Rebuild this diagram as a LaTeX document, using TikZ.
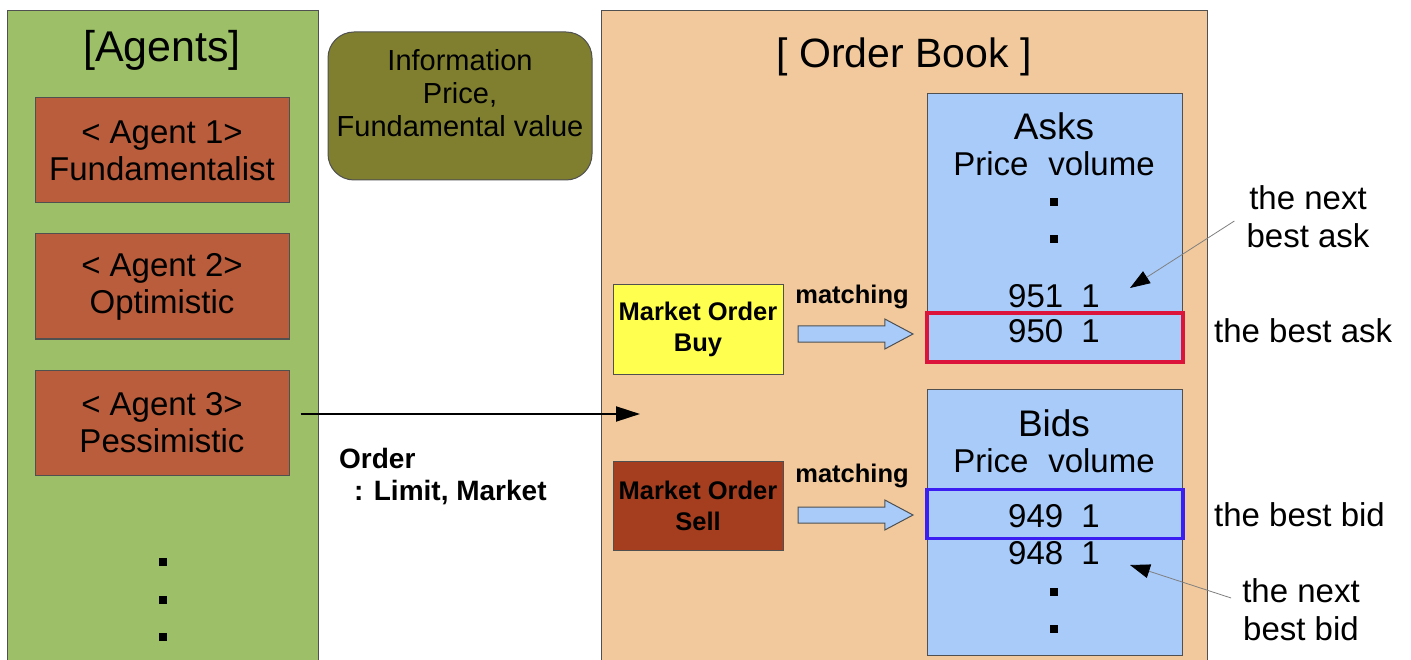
\documentclass[tikz,border=0pt]{standalone}
\usepackage{fontspec}
\setmainfont{Liberation Sans}
\usetikzlibrary{shapes.arrows,arrows.meta}
\definecolor{agentgreen}{HTML}{9CBF68}
\definecolor{agentrust}{HTML}{B95D3C}
\definecolor{infoolive}{HTML}{7F7F2F}
\definecolor{bookorange}{HTML}{F2C99C}
\definecolor{booksky}{HTML}{A8CBFA}
\definecolor{buyyellow}{HTML}{FFFF50}
\definecolor{sellrust}{HTML}{A53D1F}
\definecolor{askred}{HTML}{DC143C}
\definecolor{bidblue}{HTML}{3A1EF2}
\definecolor{edgegray}{HTML}{505050}
\newcommand{\fs}[1]{\fontsize{#1}{1.2\dimexpr#1pt\relax}\selectfont}
\tikzset{
  panelbox/.style={draw=edgegray, line width=1pt, inner sep=0pt, anchor=north west},
  agentbox/.style={draw=edgegray, line width=1pt, fill=agentrust, minimum width=254pt, minimum height=105pt, inner sep=0pt, align=center, font=\fontsize{33}{37}\selectfont},
  orderbox/.style={draw=edgegray, line width=1pt, minimum width=170pt, minimum height=89pt, inner sep=0pt, align=center, font=\fontsize{25.5}{31}\selectfont\bfseries},
  bookside/.style={draw=edgegray, line width=1pt, fill=booksky, minimum width=255pt, inner sep=0pt, anchor=north west},
  bestbox/.style={line width=3.5pt, minimum width=256pt, minimum height=49pt, inner sep=0pt},
  txt/.style={inner sep=0pt, align=center},
  dotsq/.style={fill=black, minimum size=8pt, inner sep=0pt},
  matcharrow/.style={single arrow, draw=edgegray, line width=1pt, fill=booksky, minimum height=115pt, minimum width=30pt, inner sep=7.5pt, single arrow head extend=7pt, single arrow tip angle=56},
  notearrow/.style={draw=gray, line width=0.8pt, -{Triangle[length=20pt,width=14pt,color=black,fill=black]}},
}
\begin{document}
\begin{tikzpicture}[x=1pt,y=-1pt]
\clip (0,0) rectangle (1411,660);
\fill[white] (0,0) rectangle (1411,660);
% panels
\node[panelbox, fill=agentgreen, minimum width=311pt, minimum height=665pt] (agents) at (7,10) {};
\node[panelbox, fill=bookorange, minimum width=606pt, minimum height=665pt] (book) at (601,10) {};
\node[txt, font=\fs{43}] (agentstitle) at (162,50) {[Agents]};
\node[txt, font=\fs{41}] (booktitle) at (904,57) {[ Order Book ]};
% agents
\node[agentbox] (ag1) at (162,150.5) {< Agent 1>\\Fundamentalist};
\node[agentbox] (ag2) at (162,286.5) {< Agent 2>\\Optimistic};
\node[agentbox] (ag3) at (162,422.5) {< Agent 3>\\Pessimistic};
\node[dotsq] (agd1) at (163,562) {};
\node[dotsq] (agd2) at (163,600) {};
\node[dotsq] (agd3) at (163,637) {};
% information
\node[draw=edgegray, line width=1pt, fill=infoolive, rounded corners=26pt, minimum width=264pt, minimum height=148pt, inner sep=0pt] (info) at (460,106) {};
\node[txt, font=\fontsize{29}{33}\selectfont] (infotext) at (460,93) {Information\\Price,\\Fundamental value};
% order arrow
\coordinate (ordertip) at (640,414);
\draw[line width=2pt, -{Triangle[length=24pt,width=15pt]}] ([xshift=11pt,yshift=8.5pt]ag3.east) -- (ordertip);
\node[txt, align=left, anchor=west, font=\fontsize{28}{32}\selectfont\bfseries] (ordertext) at (339,477) {Order\\\hspace*{15pt}: Limit, Market};
% asks
\node[bookside, minimum height=269pt] (asks) at (927,93) {};
\node[txt, font=\fs{37}] (askstitle) at (1054,126) {Asks};
\node[txt, font=\fs{33}] (askshead) at (1054,164) {Price\hspace{0.6em}volume};
\node[dotsq] (askd1) at (1054,202) {};
\node[dotsq] (askd2) at (1054,239) {};
\node[txt, font=\fs{33}] (n951) at (1054,296) {951\hspace{0.55em}1};
\node[bestbox, draw=askred] (bestask) at (1055,337.5) {};
\node[txt, font=\fs{33}] (n950) at (1054,331) {950\hspace{0.55em}1};
% bids
\node[bookside, minimum height=266pt] (bids) at (927,389) {};
\node[txt, font=\fs{37}] (bidstitle) at (1054,423) {Bids};
\node[txt, font=\fs{33}] (bidshead) at (1054,461) {Price\hspace{0.6em}volume};
\node[bestbox, draw=bidblue] (bestbid) at (1055,514) {};
\node[txt, font=\fs{33}] (n949) at (1054,516) {949\hspace{0.55em}1};
\node[txt, font=\fs{33}] (n948) at (1054,553) {948\hspace{0.55em}1};
\node[dotsq] (bidd1) at (1054,592) {};
\node[dotsq] (bidd2) at (1054,629) {};
% market orders
\node[orderbox, fill=buyyellow] (buy) at (698,329.5) {Market Order\\Buy};
\node[orderbox, fill=sellrust] (sell) at (698,505.5) {Market Order\\Sell};
\node[txt, font=\fs{25.5}\bfseries] (match1) at (852,297) {matching};
\node[txt, font=\fs{25.5}\bfseries] (match2) at (852,476) {matching};
\node[matcharrow] (arr1) at (848,334) {};
\node[matcharrow] (arr2) at (848,515) {};
% labels
\node[txt, anchor=west, font=\fs{33}] (bestasklbl) at (1214,331) {the best ask};
\node[txt, anchor=west, font=\fs{33}] (bestbidlbl) at (1214,515) {the best bid};
\node[txt, font=\fontsize{33}{38}\selectfont] (nextask) at (1308,217) {the next\\best ask};
\node[txt, font=\fontsize{33}{38}\selectfont] (nextbid) at (1301,610) {the next\\best bid};
\coordinate (askpt) at (1130,288);
\coordinate (bidpt) at (1130,565);
\draw[notearrow] ([xshift=-12pt,yshift=-4pt]nextask.west) -- (askpt);
\draw[notearrow] ([xshift=-11pt,yshift=12pt]nextbid.west) -- (bidpt);
\end{tikzpicture}
\end{document}
